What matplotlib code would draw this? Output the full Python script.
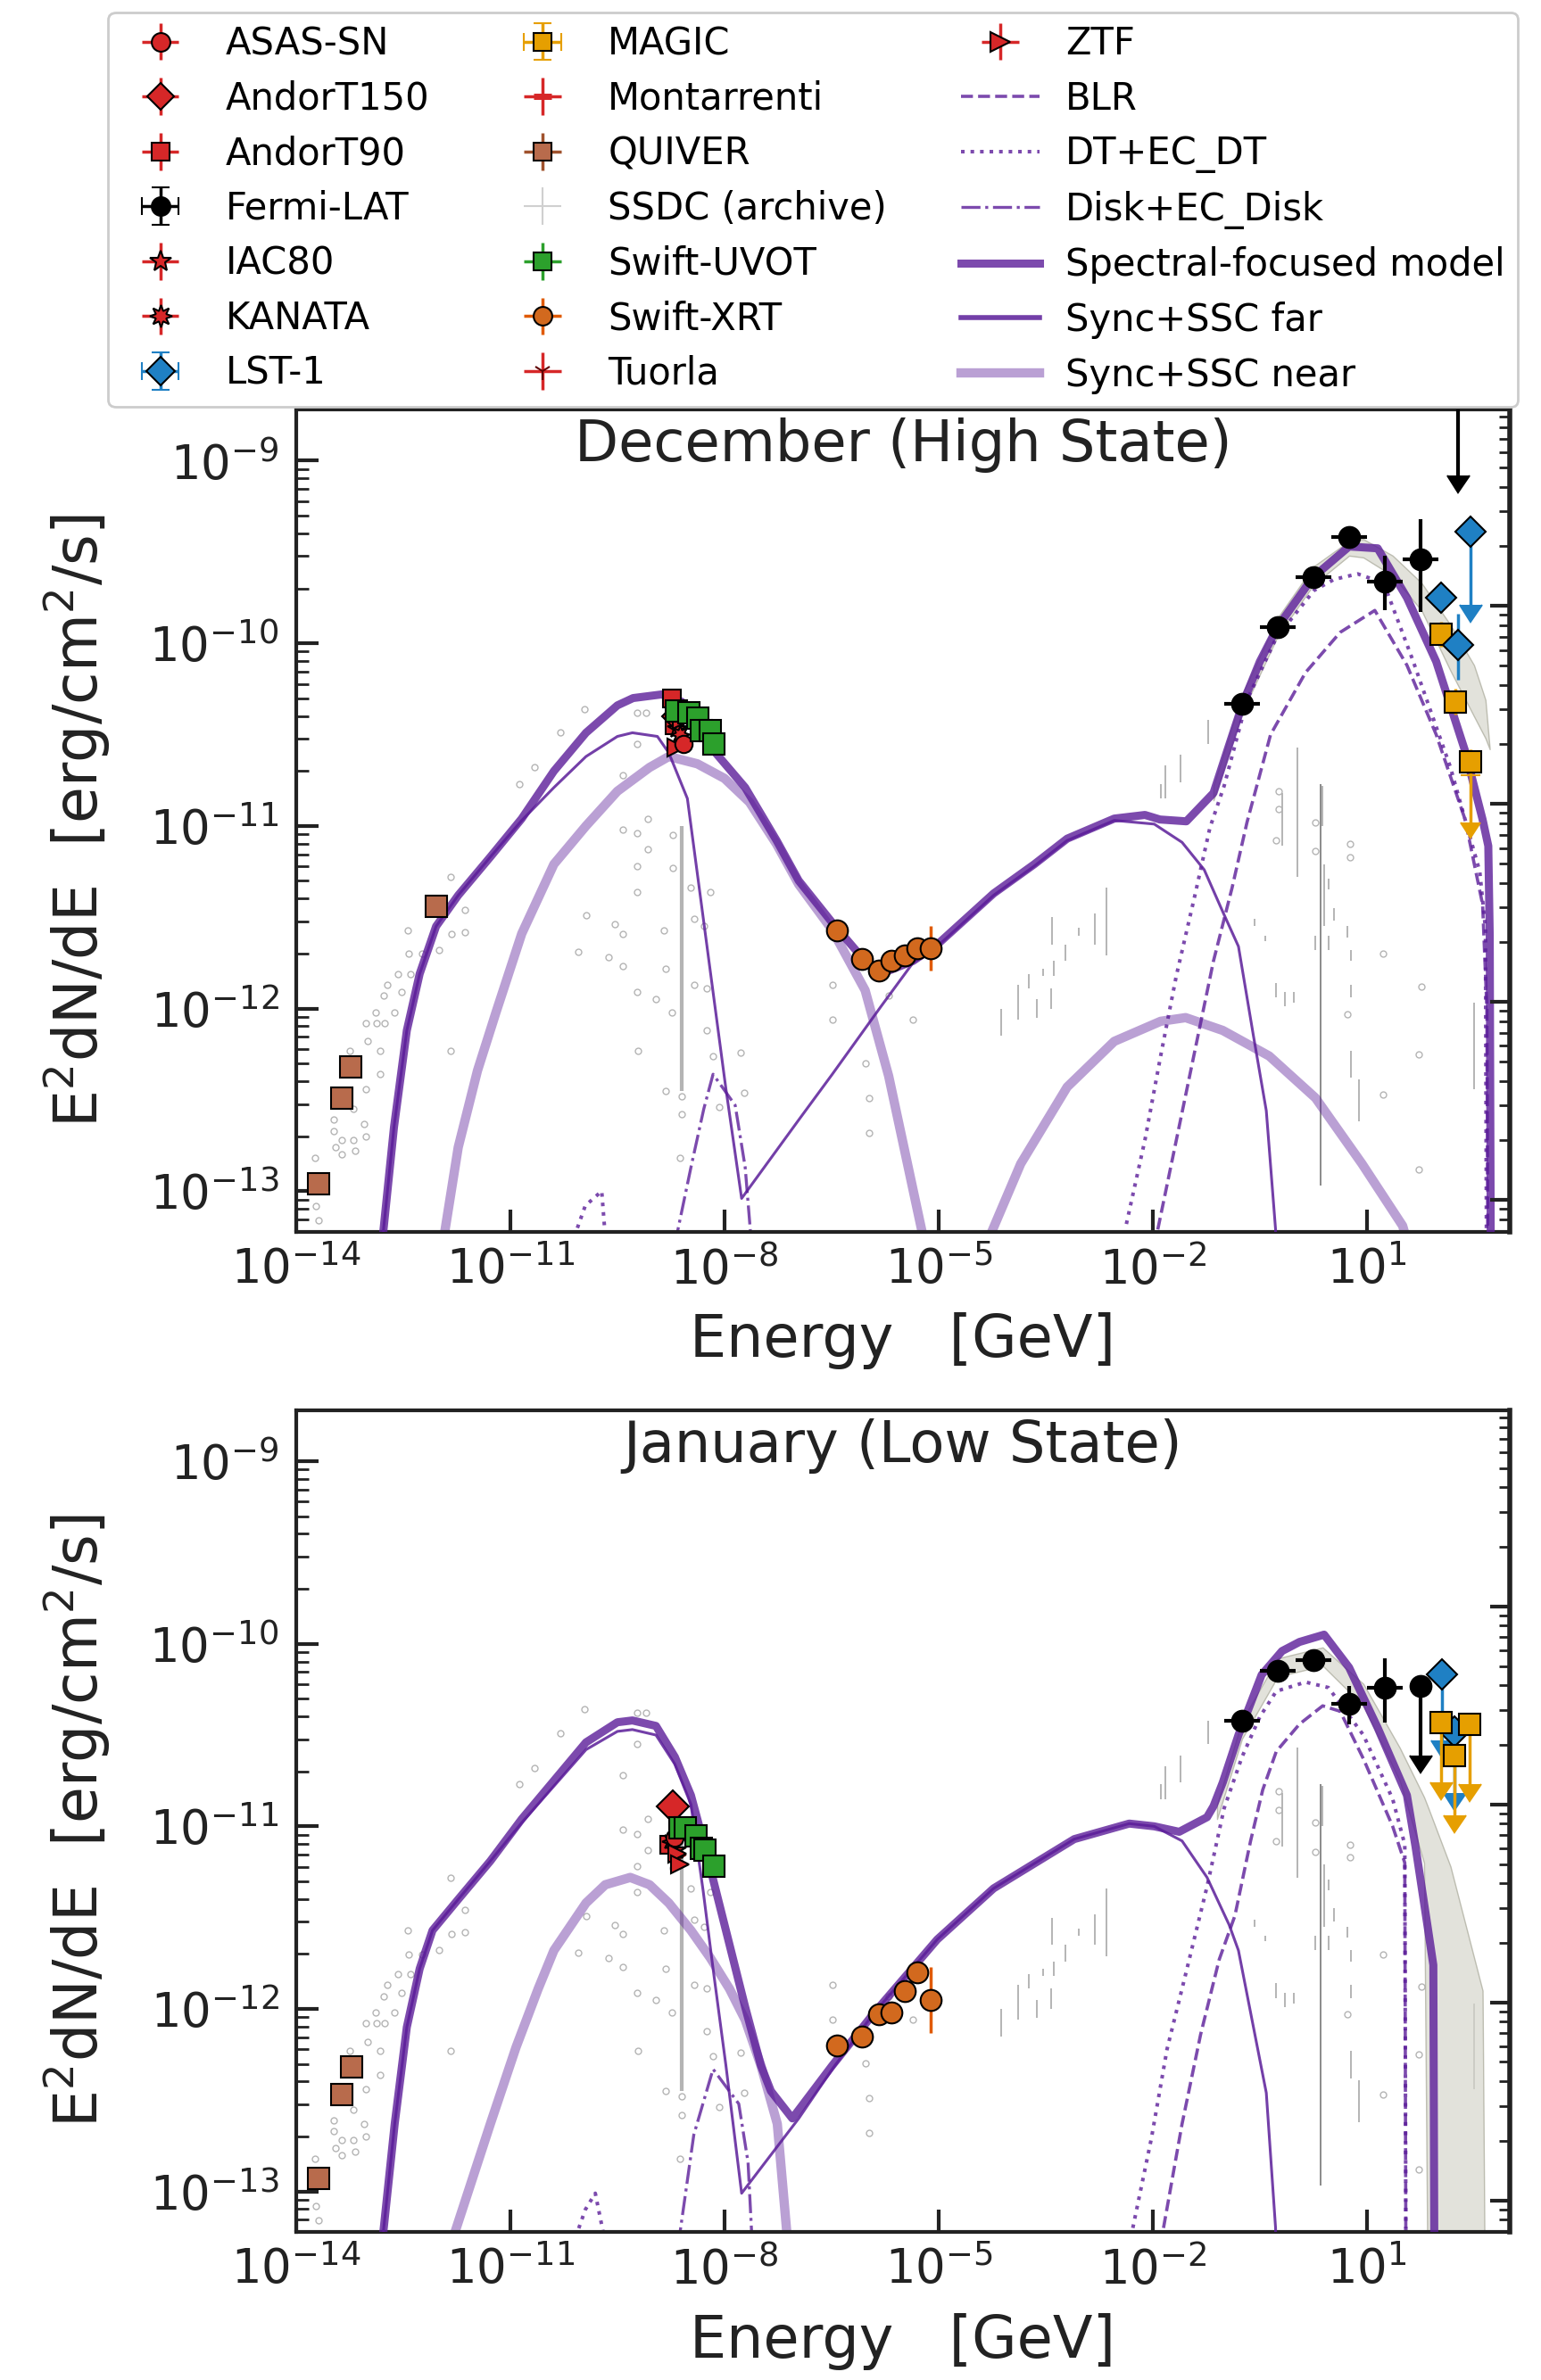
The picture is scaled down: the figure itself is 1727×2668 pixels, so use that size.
import numpy as np
import matplotlib
matplotlib.use("Agg")
import matplotlib.pyplot as plt
from matplotlib.lines import Line2D
from matplotlib.ticker import FixedLocator, NullLocator, NullFormatter

plt.rcParams['font.family'] = ['DejaVu Sans']
plt.rcParams['mathtext.fontset'] = 'dejavusans'

# ------------------------------------------------------------------
# DATA  (log10 E [GeV], log10 E^2 dN/dE [erg/cm^2/s])
# ------------------------------------------------------------------
# ---------- December (High State) model curves ----------
dec_total_logE = [-12.80, -12.63, -12.45, -12.27, -12.04, -11.73, -11.28, -10.84, -10.39, -9.94, -9.50, -9.28, -8.88, -8.60, -8.19, -7.71, -7.27, -6.96, -6.49, -6.03, -5.81, -5.36, -5.02, -4.23, -3.66, -3.20, -2.54, -2.11, -1.90, -1.53, -1.15, -0.95, -0.74, -0.50, -0.25, 0.24, 0.75, 1.15, 1.56, 1.97, 2.375, 2.62, 2.70, 2.72, 2.74]
dec_total_logF = [-13.30, -12.65, -12.12, -11.81, -11.55, -11.38, -11.17, -10.96, -10.70, -10.49, -10.34, -10.30, -10.28, -10.32, -10.57, -10.79, -11.08, -11.30, -11.53, -11.74, -11.81, -11.74, -11.65, -11.37, -11.21, -11.07, -10.96, -10.94, -10.965, -10.975, -10.82, -10.58, -10.33, -10.10, -9.91, -9.64, -9.47, -9.48, -9.75, -10.10, -10.59, -10.965, -11.11, -11.60, -14.0]
dec_far_logE = [-12.80, -12.63, -12.45, -12.27, -12.04, -11.73, -11.28, -10.84, -10.39, -9.94, -9.50, -9.29, -8.94, -8.78, -8.52, -8.34, -8.16, -7.98, -7.76, -6.96, -6.49, -5.81, -5.36, -5.02, -4.23, -3.66, -3.20, -2.54, -1.98, -1.59, -1.28, -1.02, -0.80, -0.59, -0.41, -0.28, -0.26]
dec_far_logF = [-13.30, -12.65, -12.12, -11.81, -11.55, -11.38, -11.17, -10.97, -10.79, -10.62, -10.51, -10.49, -10.51, -10.60, -10.85, -11.38, -11.91, -12.44, -13.04, -12.61, -12.36, -11.99, -11.75, -11.66, -11.38, -11.22, -11.08, -10.97, -10.99, -11.09, -11.24, -11.47, -11.66, -12.15, -12.56, -13.21, -14.0]
dec_near_sync_logE = [-11.95, -11.73, -11.46, -11.20, -10.84, -10.39, -9.94, -9.50, -9.05, -8.78, -8.38, -8.00, -7.65, -7.27, -6.96, -6.49, -6.03, -5.70, -5.36, -5.19]
dec_near_sync_logF = [-13.30, -12.76, -12.34, -12.02, -11.59, -11.21, -11.00, -10.81, -10.68, -10.62, -10.66, -10.74, -10.87, -11.10, -11.32, -11.57, -11.90, -12.37, -12.99, -13.30]
dec_near_ssc_logE = [-4.34, -3.85, -3.20, -2.54, -1.89, -1.54, -1.02, -0.37, 0.28, 0.93, 1.50, 1.58]
dec_near_ssc_logF = [-13.30, -12.85, -12.43, -12.18, -12.07, -12.05, -12.12, -12.26, -12.49, -12.85, -13.19, -13.30]
dec_disk_logE = [-8.70, -8.47, -8.29, -8.16, -7.85, -7.71, -7.62]
dec_disk_logF = [-13.30, -12.87, -12.55, -12.36, -12.53, -12.87, -13.30]
dec_dt_logE = [-10.15, -9.95, -9.72, -9.66]
dec_dt_logF = [-13.30, -13.08, -13.00, -13.30]
dec_ecdt_logE = [-2.37, -2.11, -1.89, -1.67, -1.41, -1.20, -1.00, -0.68, -0.27, 0.26, 0.54, 0.87, 1.235, 1.64, 2.17, 2.58, 2.66, 2.68]
dec_ecdt_logF = [-13.18, -12.72, -12.26, -11.82, -11.38, -11.01, -10.78, -10.31, -9.97, -9.71, -9.65, -9.62, -9.67, -10.09, -10.68, -11.25, -11.56, -14.0]
dec_blr_logE = [-1.93, -1.67, -1.41, -1.15, -0.89, -0.68, -0.35, 0.14, 0.625, 1.11, 1.56, 1.97, 2.375, 2.62, 2.68, 2.70]
dec_blr_logF = [-13.21, -12.72, -12.23, -11.74, -11.34, -10.98, -10.50, -10.16, -9.94, -9.82, -10.12, -10.50, -10.965, -11.43, -12.0, -14.0]
dec_band_logE = [-1.15, -0.75, -0.25, 0.25, 0.75, 0.95, 1.36, 1.765, 2.17, 2.50, 2.66, 2.72]
dec_band_hi = [-10.78, -10.28, -9.86, -9.58, -9.44, -9.43, -9.52, -9.67, -9.90, -10.12, -10.31, -10.58]
dec_band_lo = [-10.86, -10.38, -9.96, -9.68, -9.52, -9.53, -9.63, -9.82, -10.15, -10.40, -10.52, -10.58]

# ---------- January (Low State) model curves ----------
jan_total_logE = [-12.80, -12.62, -12.45, -12.27, -12.09, -11.73, -11.28, -10.84, -10.39, -9.94, -9.50, -9.29, -8.96, -8.695, -8.47, -8.25, -7.98, -7.71, -7.49, -7.35, -7.05, -6.49, -5.92, -5.02, -4.23, -3.10, -2.33, -1.98, -1.63, -1.24, -1.15, -1.02, -0.80, -0.475, -0.19, 0.055, 0.40, 0.75, 1.15, 1.56, 1.68, 1.85, 1.93, 1.95]
jan_total_logF = [-13.30, -12.63, -12.10, -11.78, -11.57, -11.40, -11.19, -10.96, -10.75, -10.54, -10.43, -10.42, -10.45, -10.62, -10.83, -11.15, -11.57, -11.99, -12.31, -12.45, -12.60, -12.31, -12.03, -11.62, -11.34, -11.07, -10.985, -11.00, -11.03, -10.95, -10.89, -10.76, -10.50, -10.17, -10.04, -9.99, -9.95, -10.13, -10.46, -10.83, -11.11, -11.55, -11.76, -14.0]
jan_far_logE = [-12.80, -12.62, -12.45, -12.27, -12.09, -11.73, -11.28, -10.84, -10.39, -9.94, -9.50, -9.29, -8.96, -8.695, -8.47, -8.30, -8.16, -7.98, -7.76, -6.96, -6.49, -5.92, -5.02, -4.23, -3.10, -2.33, -1.98, -1.59, -1.24, -0.93, -0.80, -0.41, -0.28, -0.26]
jan_far_logF = [-13.30, -12.63, -12.10, -11.78, -11.57, -11.40, -11.19, -10.98, -10.78, -10.58, -10.48, -10.47, -10.50, -10.66, -10.88, -11.35, -11.78, -12.31, -13.01, -12.60, -12.33, -12.03, -11.62, -11.34, -11.07, -10.985, -11.00, -11.08, -11.28, -11.54, -11.68, -12.46, -13.20, -14.0]
jan_near_logE = [-11.84, -11.28, -10.92, -10.61, -10.39, -9.94, -9.67, -9.32, -9.05, -8.78, -8.47, -8.20, -7.93, -7.71, -7.49, -7.26, -7.11]
jan_near_logF = [-13.30, -12.63, -12.21, -11.89, -11.68, -11.42, -11.32, -11.28, -11.32, -11.42, -11.57, -11.72, -11.89, -12.06, -12.31, -12.63, -13.30]
jan_disk_logE = [-8.65, -8.43, -8.16, -7.80, -7.67, -7.61]
jan_disk_logF = [-13.30, -12.69, -12.33, -12.52, -12.84, -13.30]
jan_dt_logE = [-10.13, -9.95, -9.81, -9.66]
jan_dt_logF = [-13.30, -13.10, -13.01, -13.30]
jan_ecdt_logE = [-2.28, -2.02, -1.80, -1.54, -1.24, -1.00, -0.75, -0.50, -0.27, 0.14, 0.46, 0.95, 1.36, 1.53, 1.55]
jan_ecdt_logF = [-13.20, -12.71, -12.22, -11.81, -11.33, -10.90, -10.62, -10.40, -10.26, -10.21, -10.24, -10.50, -10.85, -11.10, -14.0]
jan_blr_logE = [-1.85, -1.59, -1.33, -1.07, -0.85, -0.63, -0.46, -0.27, 0.055, 0.38, 0.625, 0.95, 1.36, 1.53, 1.55]
jan_blr_logF = [-13.20, -12.63, -12.14, -11.73, -11.49, -11.08, -10.80, -10.59, -10.44, -10.34, -10.37, -10.63, -11.00, -11.20, -14.0]
jan_band_logE = [-1.10, -0.75, -0.25, 0.38, 0.95, 1.46, 1.80, 1.86, 2.17, 2.62, 2.66]
jan_band_hi = [-10.88, -10.42, -10.08, -10.02, -10.22, -10.57, -10.84, -10.90, -11.22, -11.90, -14.0]
jan_band_lo = [-10.96, -10.52, -10.18, -10.12, -10.34, -10.75, -11.20, -14.0, -14.0, -14.0, -14.0]

# ---------- December data ----------
dec_fermi_logE = [-0.75, -0.25, 0.25, 0.75, 1.25, 1.75]
dec_fermi_logF = [-10.33, -9.91, -9.64, -9.42, -9.66, -9.54]
dec_fermi_elo = [0.04, 0.03, 0.03, 0.03, 0.16, 0.29]
dec_fermi_ehi = [0.04, 0.03, 0.03, 0.03, 0.14, 0.22]
dec_fermi_ul_logE = [2.28]
dec_fermi_ul_logF = [-8.62]
dec_lst_logE = [2.04, 2.28]
dec_lst_logF = [-9.75, -10.01]
dec_lst_elo = [0.08, 0.19]
dec_lst_ehi = [0.08, 0.17]
dec_lst_ul_logE = [2.45]
dec_lst_ul_logF = [-9.39]
dec_magic_logE = [2.04, 2.24, 2.45]
dec_magic_logF = [-9.95, -10.32, -10.65]
dec_magic_ul_logE = [2.45]
dec_magic_ul_logF = [-10.72]
dec_xrt_logE = [-6.43, -6.07, -5.84, -5.66, -5.47, -5.30, -5.11]
dec_xrt_logF = [-11.57, -11.73, -11.79, -11.74, -11.71, -11.67, -11.67]
dec_xrt_err = [0.03, 0.03, 0.03, 0.03, 0.04, 0.05, 0.12]
dec_uvot_logE = [-8.67, -8.50, -8.38, -8.32, -8.20, -8.15]
dec_uvot_logF = [-10.37, -10.38, -10.41, -10.48, -10.48, -10.55]
dec_quiver_logE = [-13.69, -13.36, -13.24, -12.04]
dec_quiver_logF = [-12.96, -12.49, -12.32, -11.44]
dec_asassn = ([-8.58], [-10.55])
dec_andort150 = ([-8.73], [-10.40])
dec_andort90 = ([-8.74, -8.70], [-10.30, -10.45])
dec_iac80 = ([-8.66], [-10.47])
dec_kanata = ([-8.62], [-10.50])
dec_montarrenti = ([-8.70], [-10.33])
dec_tuorla = ([-8.64], [-10.38])
dec_ztf = ([-8.68, -8.60], [-10.57, -10.42])

# ---------- January data ----------
jan_fermi_logE = [-0.75, -0.25, 0.25, 0.75, 1.25]
jan_fermi_logF = [-10.42, -10.15, -10.09, -10.33, -10.24]
jan_fermi_elo = [0.03, 0.03, 0.03, 0.11, 0.19]
jan_fermi_ehi = [0.03, 0.03, 0.03, 0.10, 0.16]
jan_fermi_ul_logE = [1.75]
jan_fermi_ul_logF = [-10.23]
jan_lst_ul_logE = [2.05, 2.23]
jan_lst_ul_logF = [-10.17, -10.48]
jan_magic_ul_logE = [2.04, 2.23, 2.44]
jan_magic_ul_logF = [-10.43, -10.61, -10.44]
jan_xrt_logE = [-6.43, -6.07, -5.84, -5.66, -5.47, -5.30, -5.11]
jan_xrt_logF = [-12.20, -12.15, -12.03, -12.02, -11.90, -11.80, -11.95]
jan_xrt_err = [0.03, 0.03, 0.03, 0.03, 0.04, 0.04, 0.18]
jan_uvot_logE = [-8.63, -8.55, -8.40, -8.33, -8.27, -8.15]
jan_uvot_logF = [-11.01, -11.01, -11.05, -11.12, -11.13, -11.22]
jan_quiver_logE = [-13.69, -13.36, -13.23]
jan_quiver_logF = [-12.93, -12.47, -12.32]
jan_asassn = ([-8.70], [-11.06])
jan_andort150 = ([-8.72], [-10.89])
jan_andort90 = ([-8.77], [-11.10])
jan_iac80 = ([-8.68], [-11.13])
jan_kanata = ([-8.75], [-11.08])
jan_montarrenti = ([-8.66], [-11.04])
jan_tuorla = ([-8.64], [-11.18])
jan_ztf = ([-8.66, -8.62], [-11.15, -11.21])

# ---------- SSDC archive (same in both panels) ----------
arch_logE = [-13.74, -13.72, -13.69, -13.47, -13.47, -13.45, -13.36, -13.36, -13.20, -13.18, -13.05, -13.02, -13.02, -13.25, -13.20, -13.02, -13.00, -12.89, -12.87, -12.82, -12.78, -12.73, -12.76, -12.62, -12.58, -12.53, -12.44, -12.42, -12.40, -12.24, -12.00, -11.84, -11.82, -11.64, -11.64, -11.84, -12.82,
             -10.88, -10.66, -10.30, -9.96, -9.94, -10.05, -9.63, -9.54, -9.43, -9.43, -9.43, -9.43, -9.23, -9.23, -9.23, -9.23, -9.23, -9.23, -9.21, -9.10, -9.07, -9.07, -8.96, -8.85, -8.83, -8.83, -8.74, -8.72, -8.72, -8.60, -8.60, -8.47, -8.43, -8.43, -8.29, -8.25, -8.25, -8.16, -8.07, -8.20, -8.63,
             -6.49, -6.49, -6.03, -5.98, -5.98, -5.70, -5.36, -7.78, -7.73,
             -0.24, -0.24, -0.28, 0.28, 0.28, 0.76, 0.76, 1.22, 1.76, 0.72, 1.72, 1.22, 1.72]
arch_logF = [-12.82, -13.08, -13.16, -12.61, -12.67, -12.76, -12.72, -12.80, -12.72, -12.78, -12.63, -12.70, -12.44, -12.23, -12.55, -12.08, -12.18, -12.02, -12.08, -12.36, -11.93, -11.87, -12.08, -12.02, -11.81, -11.91, -11.57, -11.70, -11.81, -11.70, -11.68, -11.28, -11.59, -11.46, -11.58, -12.23, -12.23,
             -10.77, -10.68, -10.49, -10.36, -11.49, -11.69, -11.72, -11.54, -10.72, -11.02, -11.59, -11.77, -10.38, -10.55, -11.04, -11.22, -11.36, -11.91, -12.23, -10.38, -10.96, -11.13, -11.95, -11.57, -11.78, -12.45, -12.02, -11.05, -11.23, -12.48, -12.58, -11.34, -11.51, -11.87, -11.55, -11.89, -12.12, -12.26, -12.54, -11.36, -12.82,
             -11.87, -12.06, -12.30, -12.49, -12.68, -11.93, -12.06, -12.24, -12.46,
             -10.81, -10.91, -11.08, -10.98, -11.14, -11.10, -11.17, -11.70, -11.88, -12.03, -12.25, -12.47, -12.88]
seg_logE = [-8.60, 0.35, 2.50, -4.12, -3.89, -3.74, -3.63, -3.54, -3.43, -3.41, -3.39, -3.22, -3.04, -2.81, -2.65, -1.89, -1.82, -1.61, -1.23, -0.57, -0.43, -0.28, -0.15, -0.02, 0.02, -0.19, 0.28, 0.38, 0.40, 0.46, 0.46, 0.54, 0.72, 0.78, 0.78, 0.78, 0.89]
seg_hi = [-11.00, -10.77, -11.97, -12.00, -11.87, -11.81, -11.95, -11.78, -11.89, -11.50, -11.74, -11.65, -11.56, -11.48, -11.34, -10.77, -10.67, -10.61, -10.42, -11.51, -11.60, -11.86, -11.91, -11.91, -10.57, -10.82, -11.60, -10.78, -11.21, -11.29, -11.60, -11.45, -11.55, -11.68, -11.87, -12.23, -12.39]
seg_lo = [-12.45, -12.97, -12.44, -12.15, -12.06, -11.89, -12.05, -11.82, -12.00, -11.65, -11.82, -11.74, -11.60, -11.65, -11.71, -10.85, -10.85, -10.76, -10.55, -11.55, -11.63, -11.94, -11.99, -11.97, -11.28, -11.11, -11.68, -11.00, -11.55, -11.35, -11.68, -11.52, -11.61, -11.74, -11.94, -12.38, -12.62]

# axis settings
xlim_log = (-14.0, 3.0)
ylim_log = (-13.222, -8.719)
xtick_log = [-14, -11, -8, -5, -2, 1]
titles = ["December (High State)", "January (Low State)"]

# ------------------------------------------------------------------
PURPLE = '#5b1d99'
RED = '#d62728'
GREEN = '#2ca02c'
XRTC = '#d2691e'
MAGICC = '#e69f00'
LSTC = '#1f80c4'
QUIVC = '#b86b4c'
ARCH = '#b4b4b4'
BANDC = '#d6d6cc'


def L(a):
    return 10.0 ** np.asarray(a, dtype=float)


def mk(fmt):
    """errorbar() only accepts string formats; route tuple markers via marker kw."""
    if isinstance(fmt, str):
        return fmt, {}
    return '', dict(marker=fmt, linestyle='none')


def curve(ax, e, f, **kw):
    ax.plot(L(e), L(f), **kw)


def pts(ax, e, f, fmt, color, ms, elo=None, ehi=None, dex_x=None, mec='k', ecolor=None,
        z=6, mew=1.5, elw=2.5):
    x = L(e); y = L(f)
    yerr = None
    if elo is not None:
        lo = y - L(np.asarray(f) - np.asarray(elo))
        hi = L(np.asarray(f) + np.asarray(ehi)) - y
        yerr = [lo, hi]
    xerr = None
    if dex_x is not None:
        xerr = [x - x * 10 ** (-dex_x), x * 10 ** dex_x - x]
    f_, kw = mk(fmt)
    ax.errorbar(x, y, xerr=xerr, yerr=yerr, fmt=f_, color=ecolor or color, mfc=color,
                mec=mec, ms=ms, mew=mew, elinewidth=elw, capsize=0, zorder=z, **kw)


def uls(ax, e, f, length, fmt, color, ms, mec='k', z=6, capsize=9, elw=2.5):
    x = L(e); y = L(f)
    err = y - L(np.asarray(f) - np.asarray(length))
    f_, kw = mk(fmt)
    ax.errorbar(x, y, yerr=err, uplims=True, fmt=f_, color=color, mfc=color, mec=mec,
                ms=ms, capsize=capsize, elinewidth=elw, zorder=z, mew=1.5, **kw)


fig = plt.figure(figsize=(17.27, 26.68), dpi=100)
ax_top = fig.add_axes([0.1922, 0.4825, 0.7875, 0.3455])
ax_bot = fig.add_axes([0.1922, 0.0622, 0.7875, 0.3454])

STY_TOT = dict(color=PURPLE, lw=6.5, alpha=0.8, zorder=3.0, solid_joinstyle='round')
STY_FAR = dict(color=PURPLE, lw=2.2, alpha=0.85, zorder=3.2)
STY_NEAR = dict(color=PURPLE, lw=7.5, alpha=0.42, zorder=2.0)
STY_BLR = dict(color=PURPLE, lw=2.6, ls='--', alpha=0.8, zorder=2.5)
STY_DT = dict(color=PURPLE, lw=2.9, ls=':', alpha=0.8, zorder=2.5)
STY_DISK = dict(color=PURPLE, lw=2.4, ls='-.', alpha=0.8, zorder=2.5)


def archive(ax):
    ax.plot(L(arch_logE), L(arch_logF), 'o', mfc='none', mec=ARCH, ms=5, mew=1.0, zorder=1)
    ax.vlines(L(seg_logE[1:]), L(seg_lo[1:]), L(seg_hi[1:]), colors=ARCH, lw=1.4, zorder=1)
    ax.vlines(L(seg_logE[:1]), L(seg_lo[:1]), L(seg_hi[:1]), colors=ARCH, lw=3.0, zorder=1)
    ax.vlines(L(seg_logE[1:2]), L(seg_lo[1:2]), L(seg_hi[1:2]), colors='#8c8c8c', lw=1.4, zorder=1)


# ---------------- December panel ----------------
ax = ax_top
archive(ax)
ax.fill_between(L(dec_band_logE), L(dec_band_lo), L(dec_band_hi), color=BANDC, alpha=0.7,
                edgecolor='#a8a898', lw=1.0, zorder=1.5)
curve(ax, dec_near_sync_logE, dec_near_sync_logF, **STY_NEAR)
curve(ax, dec_near_ssc_logE, dec_near_ssc_logF, **STY_NEAR)
curve(ax, dec_blr_logE, dec_blr_logF, **STY_BLR)
curve(ax, dec_dt_logE, dec_dt_logF, **STY_DT)
curve(ax, dec_ecdt_logE, dec_ecdt_logF, **STY_DT)
curve(ax, dec_disk_logE, dec_disk_logF, **STY_DISK)
curve(ax, dec_total_logE, dec_total_logF, **STY_TOT)
curve(ax, dec_far_logE, dec_far_logF, **STY_FAR)

pts(ax, dec_quiver_logE, dec_quiver_logF, 's', QUIVC, 17, elo=[0.02] * 4, ehi=[0.02] * 4, ecolor='#a0522d')
pts(ax, dec_xrt_logE, dec_xrt_logF, 'o', XRTC, 17, elo=dec_xrt_err, ehi=dec_xrt_err, ecolor='#e05a00')
pts(ax, dec_andort90[0], dec_andort90[1], 's', RED, 15)
pts(ax, dec_montarrenti[0], dec_montarrenti[1], '_', RED, 14, mec=RED, mew=4)
pts(ax, dec_andort150[0], dec_andort150[1], 'D', RED, 12)
pts(ax, dec_tuorla[0], dec_tuorla[1], '1', RED, 14, mec='#600000')
pts(ax, dec_iac80[0], dec_iac80[1], '*', RED, 16)
pts(ax, dec_kanata[0], dec_kanata[1], (8, 1, 0), RED, 15)
pts(ax, dec_ztf[0], dec_ztf[1], '>', RED, 14)
pts(ax, dec_asassn[0], dec_asassn[1], 'o', RED, 14)
pts(ax, dec_uvot_logE, dec_uvot_logF, 's', GREEN, 17)
pts(ax, dec_fermi_logE, dec_fermi_logF, 'o', 'k', 17, elo=dec_fermi_elo, ehi=dec_fermi_ehi, dex_x=0.25, z=7, elw=3)
uls(ax, dec_fermi_ul_logE, dec_fermi_ul_logF, [0.46], 'o', 'k', 17, z=7, elw=3)
pts(ax, dec_magic_logE, dec_magic_logF, 's', MAGICC, 17, elo=[0.07] * 3, ehi=[0.07] * 3, ecolor=MAGICC, z=6)
uls(ax, dec_magic_ul_logE, dec_magic_ul_logF, [0.26], 'none', MAGICC, 0, z=5.5, capsize=8)
pts(ax, dec_lst_logE, dec_lst_logF, 'D', LSTC, 17, elo=dec_lst_elo, ehi=dec_lst_ehi, ecolor=LSTC, z=6.5)
uls(ax, dec_lst_ul_logE, dec_lst_ul_logF, [0.40], 'D', LSTC, 17, z=6.5)

# ---------------- January panel ----------------
ax = ax_bot
archive(ax)
ax.fill_between(L(jan_band_logE), L(jan_band_lo), L(jan_band_hi), color=BANDC, alpha=0.7,
                edgecolor='#a8a898', lw=1.0, zorder=1.5)
curve(ax, jan_near_logE, jan_near_logF, **STY_NEAR)
curve(ax, jan_blr_logE, jan_blr_logF, **STY_BLR)
curve(ax, jan_dt_logE, jan_dt_logF, **STY_DT)
curve(ax, jan_ecdt_logE, jan_ecdt_logF, **STY_DT)
curve(ax, jan_disk_logE, jan_disk_logF, **STY_DISK)
curve(ax, jan_total_logE, jan_total_logF, **STY_TOT)
curve(ax, jan_far_logE, jan_far_logF, **STY_FAR)

pts(ax, jan_quiver_logE, jan_quiver_logF, 's', QUIVC, 17, elo=[0.02] * 3, ehi=[0.02] * 3, ecolor='#a0522d')
pts(ax, jan_xrt_logE, jan_xrt_logF, 'o', XRTC, 17, elo=jan_xrt_err, ehi=jan_xrt_err, ecolor='#e05a00')
pts(ax, jan_andort90[0], jan_andort90[1], 's', RED, 15)
pts(ax, jan_montarrenti[0], jan_montarrenti[1], '_', RED, 14, mec=RED, mew=4)
pts(ax, jan_tuorla[0], jan_tuorla[1], '1', RED, 14, mec='#600000')
pts(ax, jan_iac80[0], jan_iac80[1], '*', RED, 16)
pts(ax, jan_kanata[0], jan_kanata[1], (8, 1, 0), RED, 15)
pts(ax, jan_ztf[0], jan_ztf[1], '>', RED, 15)
pts(ax, jan_asassn[0], jan_asassn[1], 'o', RED, 14)
pts(ax, jan_andort150[0], jan_andort150[1], 'D', RED, 18)
pts(ax, jan_uvot_logE, jan_uvot_logF, 's', GREEN, 17)
pts(ax, jan_fermi_logE, jan_fermi_logF, 'o', 'k', 17, elo=jan_fermi_elo, ehi=jan_fermi_ehi, dex_x=0.25, z=7, elw=3)
uls(ax, jan_fermi_ul_logE, jan_fermi_ul_logF, [0.38], 'o', 'k', 17, z=7, elw=3)
uls(ax, jan_lst_ul_logE, jan_lst_ul_logF, [0.36, 0.34], 'D', LSTC, 17, z=6)
uls(ax, jan_magic_ul_logE, jan_magic_ul_logF, [0.33, 0.33, 0.33], 's', MAGICC, 17, z=6.5)

# ---------------- axes formatting ----------------
for ax, title in zip([ax_top, ax_bot], titles):
    ax.set_xscale('log')
    ax.set_yscale('log')
    ax.set_xlim(L(xlim_log[0]), L(xlim_log[1]))
    ax.set_ylim(L(ylim_log[0]), L(ylim_log[1]))
    ax.xaxis.set_major_locator(FixedLocator(L(xtick_log)))
    ax.xaxis.set_minor_locator(NullLocator())
    ax.tick_params(axis='x', which='major', direction='in', length=18, width=3, labelsize=38,
                   pad=12, top=False, bottom=True, colors='#222222')
    ax.tick_params(axis='y', which='major', direction='in', length=18, width=3, labelsize=38,
                   pad=14, left=True, right=False, colors='#222222')
    ax.tick_params(axis='y', which='minor', direction='in', length=10, width=2, left=True, right=False,
                   colors='#222222')
    for s in ax.spines.values():
        s.set_linewidth(3)
        s.set_color('#222222')
    ax.set_xlabel('Energy   [GeV]', fontsize=47, labelpad=15, color='#222222')
    ax.set_ylabel('E$^2$dN/dE  [erg/cm$^2$/s]', fontsize=48, labelpad=30, color='#222222')
    ax.text(0.5, 0.99, title, transform=ax.transAxes, ha='center', va='top', fontsize=46,
            color='#222222', zorder=10)
    tw = ax.twinx()
    tw.set_yscale('log')
    tw.set_ylim(10 ** -3.16, 10 ** 0.993)
    tw.tick_params(axis='y', which='major', direction='in', length=16, width=3, labelright=False,
                   colors='#222222')
    tw.tick_params(axis='y', which='minor', direction='in', length=9, width=2, labelright=False,
                   colors='#222222')
    tw.yaxis.set_minor_formatter(NullFormatter())
    for s in tw.spines.values():
        s.set_visible(False)
    ax.spines['right'].set_linewidth(4)

# ---------------- legend ----------------
def proxy(marker, color, ms, mec='k', ecolor=None, capsize=0, mew=1.5, elw=2.5):
    f_, kw = mk(marker)
    return ax_top.errorbar([np.nan], [np.nan], xerr=[1.0], yerr=[1.0], fmt=f_, color=ecolor or color,
                           mfc=color, mec=mec, ms=ms, mew=mew, elinewidth=elw, capsize=capsize, **kw)


handles = [
    proxy('o', RED, 15),
    proxy('D', RED, 15),
    proxy('s', RED, 15),
    proxy('o', 'k', 15, capsize=7),
    proxy('*', RED, 18),
    proxy((8, 1, 0), RED, 18),
    proxy('D', LSTC, 16, capsize=7),
    proxy('s', MAGICC, 15, capsize=7),
    proxy('_', RED, 15, mec=RED, mew=5),
    proxy('s', QUIVC, 15, ecolor='#a0522d'),
    proxy('none', ARCH, 4, mec=ARCH, ecolor='#d0d0d0', elw=1.5),
    proxy('s', GREEN, 15),
    proxy('o', XRTC, 15, ecolor='#e05a00'),
    proxy('1', RED, 15, mec='#600000'),
    proxy('>', RED, 16),
    Line2D([], [], **STY_BLR),
    Line2D([], [], **STY_DT),
    Line2D([], [], **STY_DISK),
    Line2D([], [], **STY_TOT),
    Line2D([], [], color=PURPLE, lw=4.0, alpha=0.85),
    Line2D([], [], **STY_NEAR),
]
labels = ['ASAS-SN', 'AndorT150', 'AndorT90', 'Fermi-LAT', 'IAC80', 'KANATA', 'LST-1',
          'MAGIC', 'Montarrenti', 'QUIVER', 'SSDC (archive)', 'Swift-UVOT', 'Swift-XRT', 'Tuorla',
          'ZTF', 'BLR', 'DT+EC_DT', 'Disk+EC_Disk', 'Spectral-focused model', 'Sync+SSC far', 'Sync+SSC near']
leg = fig.legend(handles, labels, ncol=3, loc='lower right', bbox_to_anchor=(0.985, 0.829),
                 borderaxespad=0.0, fontsize=30, frameon=True, fancybox=True, edgecolor='#cccccc',
                 framealpha=1.0, handlelength=2.1, handletextpad=0.7, columnspacing=2.0,
                 labelspacing=0.47, borderpad=0.35)
leg.get_frame().set_linewidth(2)

fig.savefig('out.png', dpi=100)
